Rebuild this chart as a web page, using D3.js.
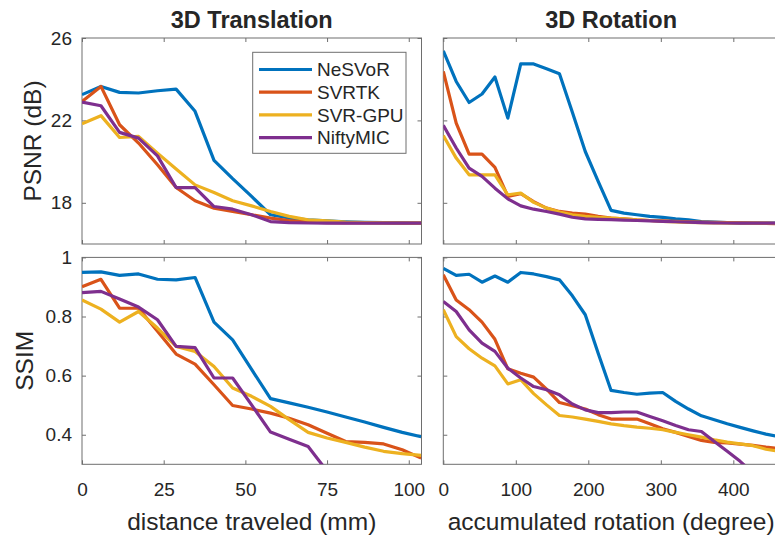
<!DOCTYPE html>
<html>
<head>
<meta charset="utf-8">
<script src="https://cdn.jsdelivr.net/npm/d3@7"></script>
<style>
  body { margin: 0; background: #fff; }
  text { font-family: "Liberation Sans", Arial, sans-serif; fill: #262626; }
</style>
</head>
<body>
<svg width="775" height="537"></svg>
<script>
// series order follows the legend
const methods = ["NeSVoR", "SVRTK", "SVR-GPU", "NiftyMIC"];
const colors = ["#0072BD", "#D95319", "#EDB120", "#7E2F8E"];

// x values
const distance = [0, 5.8, 11.5, 17.3, 23.1, 28.8, 34.6, 40.4, 46.1, 51.9, 57.7, 63.4, 69.2, 75, 80.7, 86.5, 92.3, 98, 103.8];
const rotation = [0, 17.8, 35.6, 53.4, 71.2, 89, 106.8, 124.6, 142.4, 160.2, 178, 195.8, 213.6, 231.4, 249.2, 267, 284.8, 302.6, 320.4, 338.2, 356, 373.8, 391.6, 409.4, 427.2, 445, 462.8];

// PSNR vs translation, one row per method
const psnrTrans = [
  [23.25, 23.65, 23.36, 23.33, 23.44, 23.52, 22.44, 20.06, 19.17, 18.31, 17.42, 17.26, 17.17, 17.12, 17.08, 17.05, 17.04, 17.03, 17.02],
  [22.92, 23.65, 21.79, 20.9, 19.85, 18.74, 18.1, 17.74, 17.58, 17.42, 17.26, 17.14, 17.06, 17.04, 17.03, 17.02, 17.02, 17.01, 17.01],
  [21.84, 22.23, 21.17, 21.22, 20.41, 19.64, 18.87, 18.5, 18.1, 17.85, 17.58, 17.34, 17.17, 17.12, 17.06, 17.04, 17.03, 17.02, 17.01],
  [22.89, 22.71, 21.42, 21.14, 20.28, 18.74, 18.74, 17.82, 17.69, 17.42, 17.09, 17.04, 17.02, 17.01, 17.01, 17.01, 17.01, 17.01, 17.01]
];

// PSNR vs rotation
const psnrRot = [
  [25.38, 23.89, 22.87, 23.28, 24.11, 22.11, 24.74, 24.74, 24.51, 24.27, 22.4, 20.49, 19.04, 17.63, 17.5, 17.42, 17.34, 17.29, 17.22, 17.17, 17.09, 17.06, 17.04, 17.03, 17.02, 17.02, 17.01],
  [24.38, 21.87, 20.36, 20.36, 19.72, 18.31, 18.44, 18.06, 17.74, 17.58, 17.5, 17.45, 17.34, 17.26, 17.22, 17.17, 17.14, 17.12, 17.1, 17.08, 17.06, 17.05, 17.04, 17.03, 17.02, 17.0, 16.99],
  [21.26, 20.17, 19.36, 19.36, 19.36, 18.39, 18.47, 18.02, 17.74, 17.55, 17.42, 17.34, 17.29, 17.26, 17.22, 17.17, 17.14, 17.1, 17.07, 17.05, 17.04, 17.03, 17.02, 17.02, 17.01, 17.01, 17.0],
  [21.76, 20.66, 19.68, 19.28, 18.71, 18.19, 17.85, 17.69, 17.58, 17.45, 17.3, 17.22, 17.2, 17.18, 17.16, 17.14, 17.12, 17.1, 17.08, 17.06, 17.04, 17.03, 17.02, 17.01, 17.01, 17.01, 17.01]
];

// SSIM vs translation (NiftyMIC leaves the axes after 75 mm)
const ssimTrans = [
  [0.949, 0.951, 0.939, 0.944, 0.926, 0.924, 0.932, 0.781, 0.721, 0.621, 0.522, 0.508, 0.493, 0.477, 0.46, 0.443, 0.425, 0.408, 0.393],
  [0.901, 0.926, 0.828, 0.828, 0.75, 0.673, 0.639, 0.569, 0.499, 0.487, 0.473, 0.456, 0.434, 0.405, 0.377, 0.374, 0.369, 0.349, 0.321],
  [0.856, 0.825, 0.781, 0.817, 0.761, 0.699, 0.682, 0.631, 0.558, 0.53, 0.496, 0.451, 0.408, 0.389, 0.374, 0.358, 0.344, 0.336, 0.33],
  [0.881, 0.885, 0.859, 0.832, 0.789, 0.699, 0.695, 0.592, 0.592, 0.501, 0.409, 0.385, 0.36, 0.277]
];

// SSIM vs rotation
const ssimRot = [
  [0.963, 0.939, 0.943, 0.916, 0.937, 0.916, 0.949, 0.944, 0.935, 0.924, 0.87, 0.806, 0.676, 0.55, 0.543, 0.537, 0.541, 0.543, 0.513, 0.487, 0.464, 0.451, 0.437, 0.425, 0.413, 0.402, 0.394],
  [0.941, 0.856, 0.823, 0.781, 0.723, 0.623, 0.608, 0.595, 0.554, 0.509, 0.498, 0.487, 0.468, 0.453, 0.453, 0.453, 0.437, 0.42, 0.408, 0.394, 0.381, 0.374, 0.372, 0.368, 0.364, 0.358, 0.353],
  [0.823, 0.732, 0.691, 0.659, 0.633, 0.572, 0.586, 0.539, 0.501, 0.465, 0.46, 0.453, 0.445, 0.437, 0.431, 0.426, 0.422, 0.417, 0.408, 0.4, 0.392, 0.383, 0.375, 0.369, 0.363, 0.351, 0.344],
  [0.851, 0.817, 0.755, 0.71, 0.682, 0.625, 0.592, 0.563, 0.552, 0.535, 0.504, 0.484, 0.475, 0.475, 0.477, 0.477, 0.462, 0.447, 0.431, 0.417, 0.411, 0.377, 0.344, 0.31, 0.27]
];

const distTicks = [0, 25, 50, 75, 100];
const rotTicks = [0, 100, 200, 300, 400];
const psnrTicks = [18, 22, 26];
const ssimTicks = [0.4, 0.6, 0.8, 1];

var svg = d3.select("svg");
var axisColor = "#6e6e6e";

// column / row geometry
var cols = [
  { x0: 82, x1: 421.5, domain: [0, 103.9], xs: distance, ticks: distTicks, title: "3D Translation", label: "distance traveled (mm)" },
  { x0: 443.3, x1: 779, domain: [0, 463], xs: rotation, ticks: rotTicks, title: "3D Rotation", label: "accumulated rotation (degree)" }
];
var rows = [
  { y0: 38, y1: 244, domain: [16, 26], ticks: psnrTicks, label: "PSNR (dB)", labelX: 41, data: [psnrTrans, psnrRot] },
  { y0: 257.4, y1: 464.3, domain: [0.3, 1], ticks: ssimTicks, label: "SSIM", labelX: 33, data: [ssimTrans, ssimRot] }
];

rows.forEach(function (row, ri) {
  cols.forEach(function (col, ci) {
    var x = d3.scaleLinear().domain(col.domain).range([col.x0, col.x1]);
    var y = d3.scaleLinear().domain(row.domain).range([row.y1, row.y0]);
    var g = svg.append("g");
    var clipId = "clip" + ri + ci;

    svg.append("clipPath").attr("id", clipId)
      .append("rect")
      .attr("x", col.x0).attr("y", row.y0)
      .attr("width", col.x1 - col.x0).attr("height", row.y1 - row.y0);

    // inward ticks on all four sides, labels only on outer edges
    var bottom = g.append("g")
      .attr("transform", "translate(0," + row.y1 + ")")
      .call(d3.axisBottom(x).tickValues(col.ticks).tickSize(-4).tickPadding(18)
        .tickFormat(ri == 1 ? d3.format("") : ""));
    var top = g.append("g")
      .attr("transform", "translate(0," + row.y0 + ")")
      .call(d3.axisTop(x).tickValues(col.ticks).tickSize(-4).tickFormat(""));
    var left = g.append("g")
      .attr("transform", "translate(" + col.x0 + ",0)")
      .call(d3.axisLeft(y).tickValues(row.ticks).tickSize(-4).tickPadding(10)
        .tickFormat(ci == 0 ? d3.format("") : ""));
    var right = g.append("g")
      .attr("transform", "translate(" + col.x1 + ",0)")
      .call(d3.axisRight(y).tickValues(row.ticks).tickSize(-4).tickFormat(""));

    [bottom, top, left, right].forEach(function (a) {
      a.select(".domain").remove();
      a.selectAll("line").attr("stroke", axisColor);
      a.selectAll("text").style("font-size", "19px").attr("fill", "#262626");
    });

    g.append("rect")
      .attr("x", col.x0).attr("y", row.y0)
      .attr("width", col.x1 - col.x0).attr("height", row.y1 - row.y0)
      .attr("fill", "none").attr("stroke", axisColor).attr("stroke-width", 1);

    var line = d3.line()
      .x(function (d, i) { return x(col.xs[i]); })
      .y(function (d) { return y(d); });

    g.append("g").attr("clip-path", "url(#" + clipId + ")")
      .selectAll("path")
      .data(row.data[ci])
      .enter().append("path")
      .attr("d", line)
      .attr("fill", "none")
      .attr("stroke", function (d, i) { return colors[i]; })
      .attr("stroke-width", 3.2)
      .attr("stroke-linejoin", "round");

    if (ri == 0) {
      svg.append("text")
        .attr("x", (col.x0 + col.x1) / 2).attr("y", 28)
        .attr("text-anchor", "middle")
        .style("font-size", "23.5px").style("font-weight", "bold")
        .text(col.title);
    } else {
      svg.append("text")
        .attr("x", (col.x0 + col.x1) / 2).attr("y", 530)
        .attr("text-anchor", "middle")
        .style("font-size", "24.5px")
        .text(col.label);
    }
    if (ci == 0) {
      svg.append("text")
        .attr("transform", "translate(" + row.labelX + "," + (row.y0 + row.y1) / 2 + ") rotate(-90)")
        .attr("text-anchor", "middle")
        .style("font-size", "24.5px")
        .text(row.label);
    }
  });
});

// legend inside the top-left panel
var legend = svg.append("g");
legend.append("rect")
  .attr("x", 252.7).attr("y", 52.3).attr("width", 153.3).attr("height", 101)
  .attr("fill", "#fff").attr("stroke", axisColor);
methods.forEach(function (m, i) {
  var ly = 69.5 + i * 22.7;
  legend.append("line")
    .attr("x1", 259).attr("x2", 312).attr("y1", ly).attr("y2", ly)
    .attr("stroke", colors[i]).attr("stroke-width", 3.2);
  legend.append("text")
    .attr("x", 317).attr("y", ly).attr("dy", "0.35em")
    .style("font-size", "19px")
    .text(m);
});
</script>
</body>
</html>
